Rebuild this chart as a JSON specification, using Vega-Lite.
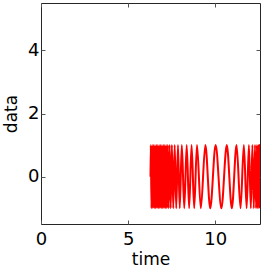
{
  "$schema": "https://vega.github.io/schema/vega-lite/v6.json",
  "autosize": {"type": "none"},
  "width": 219,
  "height": 221,
  "padding": {"left": 41, "top": 3, "right": 4, "bottom": 46},
  "config": {
    "view": {"stroke": "#262626", "strokeWidth": 1},
    "font": "DejaVu Sans",
    "axis": {
      "grid": false,
      "domain": false,
      "tickColor": "#555",
      "tickSize": -4,
      "labelFlush": false,
      "labelFontSize": 18,
      "labelColor": "#000",
      "titleFontSize": 17,
      "titleFontWeight": "normal",
      "titleColor": "#000"
    }
  },
  "data": {
    "values": [
      {"t": 6.2832, "v": 0},
      {"t": 6.30, "v": 1}, {"t": 6.34, "v": -1}, {"t": 6.38, "v": 1}, {"t": 6.42, "v": -1},
      {"t": 6.46, "v": 1}, {"t": 6.50, "v": -1}, {"t": 6.54, "v": 1}, {"t": 6.58, "v": -1},
      {"t": 6.62, "v": 1}, {"t": 6.66, "v": -1}, {"t": 6.70, "v": 1}, {"t": 6.74, "v": -1},
      {"t": 6.78, "v": 1}, {"t": 6.82, "v": -1}, {"t": 6.86, "v": 1}, {"t": 6.90, "v": -1},
      {"t": 6.94, "v": 1}, {"t": 6.98, "v": -1}, {"t": 7.02, "v": 1}, {"t": 7.06, "v": -1},
      {"t": 7.10, "v": 1}, {"t": 7.14, "v": -1}, {"t": 7.18, "v": 1}, {"t": 7.22, "v": -1},
      {"t": 7.27, "v": 1}, {"t": 7.32, "v": -1}, {"t": 7.38, "v": 1}, {"t": 7.44, "v": -1},
      {"t": 7.51, "v": 1}, {"t": 7.59, "v": -1}, {"t": 7.67, "v": 1}, {"t": 7.76, "v": -1},
      {"t": 7.86, "v": 1}, {"t": 7.96, "v": -1}, {"t": 8.08, "v": 1}, {"t": 8.22, "v": -1},
      {"t": 8.36, "v": 1}, {"t": 8.50, "v": -1}, {"t": 8.64, "v": 1}, {"t": 8.79, "v": -1},
      {"t": 8.95, "v": 1}, {"t": 9.17, "v": -1}, {"t": 9.43, "v": 1}, {"t": 9.71, "v": -1},
      {"t": 10.02, "v": 1}, {"t": 10.35, "v": -1}, {"t": 10.66, "v": 1}, {"t": 10.95, "v": -1},
      {"t": 11.22, "v": 1}, {"t": 11.45, "v": -1}, {"t": 11.64, "v": 1}, {"t": 11.80, "v": -1},
      {"t": 11.93, "v": 1}, {"t": 12.04, "v": -1}, {"t": 12.13, "v": 1}, {"t": 12.21, "v": -1},
      {"t": 12.28, "v": 1}, {"t": 12.34, "v": -1}, {"t": 12.39, "v": 1}, {"t": 12.43, "v": -1},
      {"t": 12.47, "v": 1}, {"t": 12.50, "v": -1}, {"t": 12.53, "v": 1}, {"t": 12.56, "v": -1}
    ]
  },
  "layer": [
    {
      "mark": {"type": "line", "color": "#ff0000", "strokeWidth": 2, "interpolate": "monotone", "clip": true},
      "encoding": {
        "x": {"field": "t", "type": "quantitative", "sort": null,
              "scale": {"domain": [0, 12.566], "nice": false, "zero": false},
              "axis": {"orient": "bottom", "values": [0, 5, 10], "title": "time", "labelPadding": 10, "titlePadding": 3}},
        "y": {"field": "v", "type": "quantitative",
              "scale": {"domain": [-1.5, 5.5], "nice": false, "zero": false},
              "axis": {"orient": "left", "values": [0, 2, 4], "title": "data", "labelPadding": 6, "titlePadding": 7}}
      }
    },
    {
      "mark": {"type": "line", "opacity": 0},
      "encoding": {
        "x": {"field": "t", "type": "quantitative",
              "axis": {"orient": "top", "values": [0, 5, 10], "labels": false, "title": null}},
        "y": {"field": "v", "type": "quantitative",
              "axis": {"orient": "right", "values": [0, 2, 4], "labels": false, "title": null}}
      }
    }
  ],
  "resolve": {"axis": {"x": "independent", "y": "independent"}}
}
